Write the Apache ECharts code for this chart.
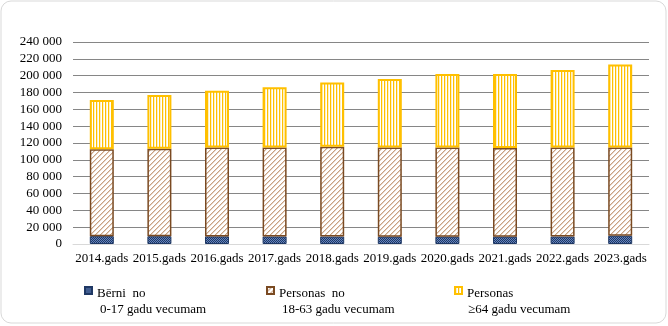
<!DOCTYPE html>
<html>
<head>
<meta charset="utf-8">
<script src="https://cdn.jsdelivr.net/npm/echarts@6/dist/echarts.min.js"></script>
<style>
  html, body { margin: 0; padding: 0; background: #ffffff; }
  #chart { width: 668px; height: 326px; }
</style>
</head>
<body>
<div id="chart"></div>
<script>
// Categories and values (persons)
const years = ['2014.gads', '2015.gads', '2016.gads', '2017.gads', '2018.gads',
               '2019.gads', '2020.gads', '2021.gads', '2022.gads', '2023.gads'];
const children = [9300, 9200, 9000, 8900, 8800, 8700, 8700, 8700, 8800, 9800];
const adults = [103200, 104000, 105800, 105900, 106800, 106100, 106100, 105300, 106000, 105000];
const seniors = [58500, 63800, 67200, 71300, 76400, 81200, 87200, 88000, 91900, 98600];
const seriesNames = ['Bērni  no', 'Personas  no', 'Personas'];
const seriesSub = ['0-17 gadu vecumam', '18-63 gadu vecumam', '≥64 gadu vecumam'];
const yTicks = { min: 0, max: 240000, interval: 20000 };

// Small canvas tiles used as repeating fill patterns
function tile(w, h, paint) {
  const c = document.createElement('canvas');
  c.width = w; c.height = h;
  const ctx = c.getContext('2d');
  ctx.fillStyle = '#ffffff';
  ctx.fillRect(0, 0, w, h);
  paint(ctx);
  return { image: c, repeat: 'repeat' };
}
const blueFill = tile(2, 2, ctx => {
  ctx.fillStyle = '#1F3864';
  ctx.fillRect(0, 0, 2, 2);
  ctx.fillStyle = '#6383bd';
  ctx.fillRect(1, 0, 1, 1);
  ctx.fillRect(0, 1, 1, 1);
});
const brownFill = tile(5, 5, ctx => {
  ctx.fillStyle = '#C9A283';
  for (let i = 0; i < 5; i++) {
    ctx.fillRect(i, 4 - i, 1, 1);
  }
  ctx.fillStyle = '#E6D2C2';
  for (let i = 0; i < 5; i++) {
    ctx.fillRect(i, (5 - i) % 5, 1, 1);
  }
});
const yellowFill = tile(3, 1, ctx => {
  ctx.fillStyle = '#FFC000';
  ctx.fillRect(0, 0, 1, 1);
  ctx.fillStyle = '#FFF0C0';
  ctx.fillRect(1, 0, 1, 1);
});

const serif = '"Liberation Serif", "Times New Roman", serif';
// Legend square sits beside the first text line (the trailing zero-length
// segment only stretches the icon's box downwards)
const legendIcon = 'path://M0,0L7,0L7,7L0,7Z M0,30L0,30';

function legendFor(i, left, indent) {
  return {
    data: [seriesNames[i]],
    left: left,
    top: 286,
    padding: 0,
    icon: legendIcon,
    itemWidth: 7,
    itemHeight: 31,
    formatter: name => '{a|' + name + '}\n{b|' + seriesSub[i] + '}',
    textStyle: {
      fontFamily: serif,
      fontSize: 13,
      color: '#000000',
      rich: {
        a: { fontFamily: serif, fontSize: 13, lineHeight: 16, color: '#000' },
        b: { fontFamily: serif, fontSize: 13, lineHeight: 16, color: '#000', padding: [0, 0, 0, indent] }
      }
    }
  };
}

const chart = echarts.init(document.getElementById('chart'), null, { renderer: 'canvas' });
chart.setOption({
  animation: false,
  backgroundColor: '#ffffff',
  graphic: [{
    type: 'rect',
    shape: { x: 1, y: 1, width: 665, height: 322, r: 10 },
    style: { fill: 'none', stroke: '#d9d9d9', lineWidth: 1 },
    silent: true
  }],
  grid: { left: 73, right: 19, top: 42, bottom: 82 },
  legend: [legendFor(0, 84, 3), legendFor(1, 266, 3), legendFor(2, 454, 1)],
  xAxis: {
    type: 'category',
    data: years,
    axisTick: { show: false },
    axisLine: { lineStyle: { color: '#d9d9d9', width: 1 } },
    axisLabel: { fontFamily: serif, fontSize: 13, color: '#000', margin: 8, interval: 0 }
  },
  yAxis: {
    type: 'value',
    min: yTicks.min,
    max: yTicks.max,
    interval: yTicks.interval,
    axisLine: { show: false },
    axisTick: { show: false },
    splitLine: { lineStyle: { color: '#868686', width: 1 } },
    axisLabel: {
      fontFamily: serif, fontSize: 13, color: '#000', margin: 11,
      formatter: v => String(v).replace(/\B(?=(\d{3})+(?!\d))/g, ' ')
    }
  },
  series: [
    {
      name: seriesNames[0], type: 'bar', stack: 'total', barWidth: 24,
      data: children,
      itemStyle: { color: blueFill, borderColor: '#1F3864', borderWidth: 1 }
    },
    {
      name: seriesNames[1], type: 'bar', stack: 'total', barWidth: 24,
      data: adults,
      itemStyle: { color: brownFill, borderColor: '#7A4A22', borderWidth: 1.5 }
    },
    {
      name: seriesNames[2], type: 'bar', stack: 'total', barWidth: 24,
      data: seniors,
      itemStyle: { color: yellowFill, borderColor: '#FFC000', borderWidth: 2 }
    }
  ]
});
</script>
</body>
</html>
